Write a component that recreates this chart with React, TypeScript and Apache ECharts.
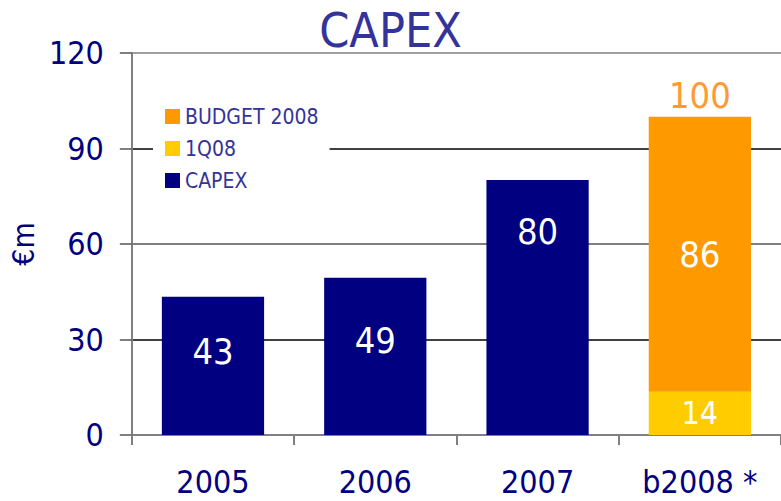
import React, { useEffect, useRef } from "react";
import * as echarts from "echarts";

const categories = ["2005", "2006", "2007", "b2008 *"];
const capexValues = [43.4, 49.4, 80.1, null];
const q108Values = [null, null, null, 13.6];
const budgetValues = [null, null, null, 86.4];
const totalValues = [null, null, null, 100];
const capexLabelDistance = [37, 45, 33];
const yTicks = { min: 0, max: 120, interval: 30 };

const FONT = '"DejaVu Sans Condensed", "Liberation Sans Narrow", "DejaVu Sans", sans-serif';
const NAVY = "#000080";
const TITLE_BLUE = "#333399";

export default function App() {
  const ref = useRef<HTMLDivElement>(null);
  useEffect(() => {
    if (!ref.current) return;
    const chart = echarts.init(ref.current, null, { renderer: "svg" });
    chart.setOption({
      animation: false,
      backgroundColor: "#fff",
      textStyle: { fontFamily: FONT },
      title: {
        text: "CAPEX",
        left: "center",
        top: 1,
        textStyle: { fontFamily: FONT, fontSize: 48, fontWeight: "normal", color: TITLE_BLUE },
      },
      legend: {
        data: ["BUDGET 2008", "1Q08", "CAPEX"],
        orient: "vertical",
        left: 153,
        top: 96,
        padding: [10, 11, 10, 12],
        backgroundColor: "#fff",
        itemWidth: 15,
        itemHeight: 15,
        itemGap: 11,
        icon: "rect",
        selectedMode: false,
        textStyle: { fontFamily: FONT, fontSize: 21, color: TITLE_BLUE, padding: [0, 0, 0, 0] },
      },
      grid: { left: 130, top: 53, width: 657, height: 382, containLabel: false },
      xAxis: {
        type: "category",
        data: categories,
        axisLine: { show: true, lineStyle: { color: "#808080", width: 2 } },
        axisTick: { show: true, length: 10, lineStyle: { color: "#808080", width: 2 } },
        axisLabel: { fontFamily: FONT, fontSize: 32, color: NAVY, margin: 31 },
      },
      yAxis: {
        type: "value",
        min: yTicks.min,
        max: yTicks.max,
        interval: yTicks.interval,
        name: "€m",
        nameLocation: "middle",
        nameRotate: 90,
        nameGap: 90,
        nameTextStyle: { fontFamily: FONT, fontSize: 30, color: NAVY },
        axisLine: { show: true, lineStyle: { color: "#808080", width: 2 } },
        axisTick: { show: true, length: 12, lineStyle: { color: "#555", width: 1.5 } },
        axisLabel: { fontFamily: FONT, fontSize: 32, color: NAVY, margin: 28 },
        splitLine: { show: true, lineStyle: { color: ["#808080", "#000", "#555", "#000", "#808080"], width: 1.5 } },
      },
      series: [
        {
          name: "CAPEX",
          type: "bar",
          stack: "a",
          barWidth: "63%",
          itemStyle: { color: NAVY },
          data: capexValues.map((v, i) =>
            v == null
              ? "-"
              : {
                  value: v,
                  label: {
                    show: true,
                    position: "insideTop",
                    distance: capexLabelDistance[i],
                    formatter: (p: any) => String(Math.round(p.value)),
                    fontFamily: FONT,
                    fontSize: 36,
                    color: "#fff",
                  },
                }
          ),
        },
        {
          name: "1Q08",
          type: "bar",
          stack: "a",
          barWidth: "63%",
          itemStyle: { color: "#ffcc00" },
          label: {
            show: true,
            position: "inside",
            formatter: (p: any) => String(Math.round(p.value)),
            fontFamily: FONT,
            fontSize: 32,
            color: "#fff",
          },
          data: q108Values.map((v) => (v == null ? "-" : v)),
        },
        {
          name: "BUDGET 2008",
          type: "bar",
          stack: "a",
          barWidth: "63%",
          itemStyle: { color: "#ff9900" },
          label: {
            show: true,
            position: "inside",
            formatter: (p: any) => String(Math.round(p.value)),
            fontFamily: FONT,
            fontSize: 36,
            color: "#fff",
          },
          data: budgetValues.map((v) => (v == null ? "-" : v)),
        },
        {
          name: "total",
          type: "bar",
          barWidth: "63%",
          barGap: "-100%",
          itemStyle: { color: "rgba(0,0,0,0)" },
          label: {
            show: true,
            position: "top",
            distance: 3,
            formatter: (p: any) => String(Math.round(p.value)),
            fontFamily: FONT,
            fontSize: 36,
            color: "#ff9933",
          },
          data: totalValues.map((v) => (v == null ? "-" : v)),
          z: 1,
        },
      ],
    });
    return () => chart.dispose();
  }, []);
  return (
    <div
      ref={ref}
      style={{ position: "fixed", left: 0, top: 0, width: 781, height: 501 }}
    />
  );
}
